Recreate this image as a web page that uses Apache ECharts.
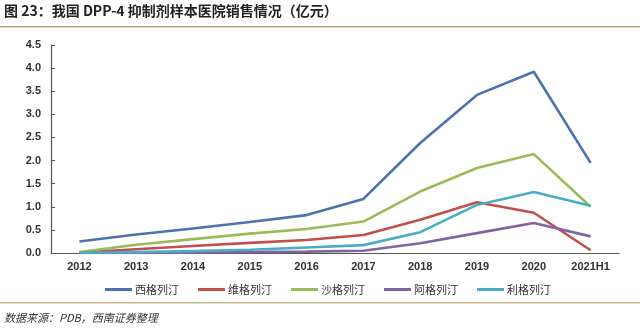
<!DOCTYPE html>
<html><head><meta charset="utf-8">
<script src="https://cdn.jsdelivr.net/npm/echarts@6/dist/echarts.min.js"></script>
<style>html,body{margin:0;padding:0;background:#fff}#c{width:640px;height:335px}</style>
</head><body><div id="c"></div>
<script>
const categories = ['2012','2013','2014','2015','2016','2017','2018','2019','2020','2021H1'];
const yTicks = ['0.0','0.5','1.0','1.5','2.0','2.5','3.0','3.5','4.0','4.5'];
const names = ['西格列汀','维格列汀','沙格列汀','阿格列汀','利格列汀'];
const sitagliptin = [0.25,0.40,0.53,0.67,0.82,1.17,2.38,3.42,3.92,1.95];
const vildagliptin = [0.01,0.08,0.15,0.22,0.28,0.39,0.72,1.10,0.87,0.06];
const saxagliptin = [0.02,0.18,0.30,0.42,0.52,0.68,1.33,1.84,2.14,1.00];
const alogliptin = [0.00,0.00,0.01,0.02,0.03,0.05,0.21,0.43,0.65,0.36];
const linagliptin = [0.00,0.02,0.04,0.07,0.12,0.17,0.45,1.04,1.32,1.02];
const seriesData = [sitagliptin, vildagliptin, saxagliptin, alogliptin, linagliptin];
const colors = ['#4A72B0','#C0504D','#9BBB59','#8064A2','#4BACC6'];

const chart = echarts.init(document.getElementById('c'), null, {renderer:'canvas'});
chart.setOption({
  animation:false,
  color: colors,
  graphic:[
    {type:'text', left:4, top:4, style:{text:'图 23：我国 DPP-4 抑制剂样本医院销售情况（亿元）', font:'bold 14px "Noto Sans CJK SC", sans-serif', fill:'#222'}},
    {type:'rect', shape:{x:0,y:26,width:640,height:1.5}, style:{fill:'#b9a882'}},
    {type:'rect', shape:{x:0,y:302,width:640,height:1.5}, style:{fill:'#c8b88a'}},
    {type:'text', left:4, top:312, style:{text:'数据来源：PDB，西南证券整理', font:'italic 11px "Noto Sans CJK SC", sans-serif', fill:'#333'}}
  ],
  grid:{left:51, right:21, top:45, bottom:82},
  legend:{
    data:names, top:279, left:100, itemWidth:27, itemHeight:3, itemGap:19,
    icon:'rect',
    textStyle:{fontSize:11, color:'#333', fontFamily:'"Noto Sans CJK SC", sans-serif', padding:[0,0,0,-2]}
  },
  xAxis:{
    type:'category', data:categories, boundaryGap:true,
    axisLine:{lineStyle:{color:'#555', width:1.2}},
    axisTick:{inside:true, length:4, lineStyle:{color:'#555'}},
    axisLabel:{color:'#333', fontSize:11, fontWeight:'bold', fontFamily:'Arial, "Liberation Sans", sans-serif', margin:8}
  },
  yAxis:{
    type:'value', min:0, max:4.5, interval:0.5,
    axisLine:{show:true, lineStyle:{color:'#555', width:1.2}},
    axisTick:{show:true, inside:true, length:4, lineStyle:{color:'#555'}},
    splitLine:{show:false},
    axisLabel:{color:'#333', fontSize:11, fontWeight:'bold', fontFamily:'Arial, "Liberation Sans", sans-serif', margin:10,
      formatter:(v)=>yTicks[Math.round(v/0.5)]}
  },
  series: names.map((n,i)=>({
    name:n, type:'line', data:seriesData[i], symbol:'none',
    lineStyle:{width:2.6, color:colors[i]}
  }))
});
</script></body></html>
